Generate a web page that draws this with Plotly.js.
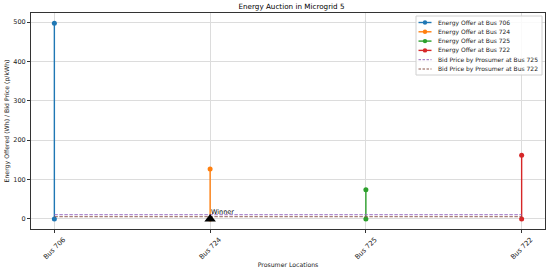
<!DOCTYPE html>
<html>
<head>
<meta charset="utf-8">
<script src="https://cdn.plot.ly/plotly-3.0.1.min.js"></script>
<style>
  html, body { margin: 0; padding: 0; background: #fff; }
  #chart { width: 550px; height: 268px; }
</style>
</head>
<body>
<div id="chart"></div>
<script>
// prosumer buses, in plotting order
var buses = ["Bus 706", "Bus 724", "Bus 725", "Bus 722"];
// energy offered by each bus (Wh)
var offers = [497, 127, 74, 162];
var offerColors = ["#1f77b4", "#ff7f0e", "#2ca02c", "#d62728"];

// bid prices (p/kWh) from the two buying prosumers
var bidBuses = ["Bus 725", "Bus 722"];
var bidPrices = [11, 6];
var bidColors = ["#9467bd", "#8c564b"];

var winnerBus = "Bus 724";
var winnerValue = 0;

// plot area in pixels, used to place the hand-made legend
var M = { l: 31, r: 5, t: 13, b: 39 };
var W = 550, H = 268;
var pw = W - M.l - M.r, ph = H - M.t - M.b;
function px(x) { return (x - M.l) / pw; }
function py(y) { return (H - M.b - y) / ph; }

var data = [];

// one stem per offer, from 0 up to the offered amount
buses.forEach(function (b, i) {
  data.push({
    x: [b, b],
    y: [0, offers[i]],
    type: "scatter",
    mode: "lines+markers",
    name: "Energy Offer at " + b,
    line: { color: offerColors[i], width: 1.4 },
    marker: { color: offerColors[i], size: 5 },
    showlegend: false
  });
});

// bid price lines across all locations
bidBuses.forEach(function (b, i) {
  data.push({
    x: [buses[0], buses[buses.length - 1]],
    y: [bidPrices[i], bidPrices[i]],
    type: "scatter",
    mode: "lines",
    name: "Bid Price by Prosumer at " + b,
    line: { color: bidColors[i], width: 1.2, dash: "3.5px,1.5px" },
    opacity: 0.75,
    showlegend: false
  });
});

// winner marker
data.push({
  x: [winnerBus],
  y: [winnerValue],
  type: "scatter",
  mode: "markers",
  showlegend: false,
  marker: { symbol: "triangle-up", color: "black", size: 10 }
});

// legend drawn by hand (plotly's rows are too tall for this size)
var shapes = [];
var annotations = [];
var legLabels = [], legColors = [], legDash = [];
buses.forEach(function (b, i) {
  legLabels.push("Energy Offer at " + b); legColors.push(offerColors[i]); legDash.push(false);
});
bidBuses.forEach(function (b, i) {
  legLabels.push("Bid Price by Prosumer at " + b); legColors.push(bidColors[i]); legDash.push(true);
});

shapes.push({
  type: "rect", xref: "paper", yref: "paper",
  x0: px(416), x1: px(542), y0: py(16), y1: py(75),
  line: { color: "#d0d0d0", width: 1 },
  fillcolor: "rgba(255,255,255,0.85)", layer: "above"
});
legLabels.forEach(function (lab, i) {
  var yy = py(22.5 + 9.3 * i);
  shapes.push({
    type: "line", xref: "paper", yref: "paper",
    x0: px(418.5), x1: px(431.5), y0: yy, y1: yy,
    line: { color: legColors[i], width: legDash[i] ? 1 : 1.4, dash: legDash[i] ? "2.5px,1.5px" : "solid" },
    layer: "above"
  });
  if (!legDash[i]) {
    shapes.push({
      type: "circle", xref: "paper", yref: "paper",
      xsizemode: "pixel", ysizemode: "pixel",
      xanchor: px(425), yanchor: yy,
      x0: -2.2, x1: 2.2, y0: -2.2, y1: 2.2,
      fillcolor: legColors[i], line: { width: 0 }, layer: "above"
    });
  }
  annotations.push({
    xref: "paper", yref: "paper",
    x: px(435.5), y: yy,
    text: lab, showarrow: false,
    xanchor: "left", yanchor: "middle",
    font: { size: 6, color: "#222" }
  });
});

annotations.push({
  x: winnerBus,
  y: winnerValue,
  text: "Winner",
  showarrow: false,
  xanchor: "left",
  yanchor: "bottom",
  xshift: -1,
  yshift: 1,
  font: { size: 6.5, color: "#000" }
});

var layout = {
  width: W,
  height: H,
  margin: M,
  paper_bgcolor: "#fff",
  plot_bgcolor: "#fff",
  font: { family: "DejaVu Sans", size: 6, color: "#222" },
  showlegend: false,
  title: {
    text: "Energy Auction in Microgrid 5",
    font: { size: 7.2, color: "#000" },
    x: 0.53, xanchor: "center", y: 0.985, yanchor: "top"
  },
  xaxis: {
    type: "category",
    categoryorder: "array",
    categoryarray: buses,
    range: [-0.15, 3.15],
    tickangle: -45,
    ticklabelshift: 9,
    tickfont: { size: 6.8 },
    ticks: "outside",
    ticklen: 3,
    tickcolor: "#333",
    showgrid: true,
    gridcolor: "#dcdcdc",
    showline: true,
    linecolor: "#333",
    mirror: true,
    zeroline: false,
    title: { text: "Prosumer Locations", font: { size: 6.2 }, standoff: 2 }
  },
  yaxis: {
    range: [-25.5, 523],
    tickvals: [0, 100, 200, 300, 400, 500],
    tickfont: { size: 6.5 },
    ticks: "outside",
    ticklen: 3,
    tickcolor: "#333",
    showgrid: true,
    gridcolor: "#dcdcdc",
    showline: true,
    linecolor: "#333",
    mirror: true,
    zeroline: false,
    title: { text: "Energy Offered (Wh) / Bid Price (p/kWh)", font: { size: 6.2 }, standoff: 3 }
  },
  shapes: shapes,
  annotations: annotations
};

Plotly.newPlot("chart", data, layout, { displayModeBar: false, staticPlot: true });
</script>
</body>
</html>
